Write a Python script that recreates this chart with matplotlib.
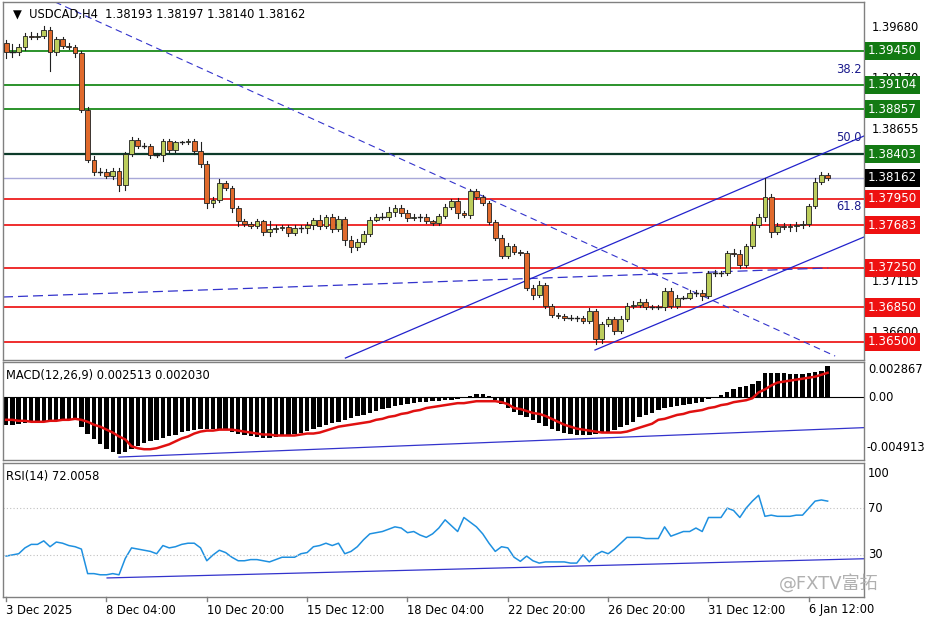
import matplotlib
matplotlib.use("Agg")
import matplotlib.pyplot as plt
from matplotlib.patches import Rectangle

plt.rcParams['font.family'] = ['DejaVu Sans', 'Noto Sans CJK SC']

first_open = 1.3953
closes = [1.3944,1.3944,1.3949,1.3960,1.3959,1.3960,1.3966,1.3944,1.3957,1.3950,
1.3949,1.3943,1.3885,1.3834,1.3822,1.3822,1.3818,1.3823,1.3809,1.3840,
1.3855,1.3848,1.3848,1.3839,1.3839,1.3854,1.3844,1.3852,1.3852,1.3854,
1.3843,1.3830,1.3791,1.3794,1.3811,1.3806,1.3786,1.3772,1.3769,1.3767,
1.3772,1.3761,1.3764,1.3765,1.3766,1.3760,1.3765,1.3765,1.3768,1.3774,
1.3767,1.3777,1.3764,1.3775,1.3753,1.3746,1.3751,1.3759,1.3774,1.3777,
1.3777,1.3782,1.3786,1.3781,1.3776,1.3777,1.3777,1.3772,1.3770,1.3778,
1.3787,1.3793,1.3781,1.3779,1.3803,1.3797,1.3791,1.3771,1.3755,1.3737,
1.3747,1.3741,1.3740,1.3705,1.3698,1.3708,1.3686,1.3677,1.3676,1.3674,
1.3674,1.3674,1.3671,1.3681,1.3653,1.3668,1.3673,1.3661,1.3673,1.3686,
1.3687,1.3690,1.3685,1.3685,1.3685,1.3702,1.3686,1.3695,1.3695,1.3700,
1.3700,1.3697,1.3720,1.3720,1.3720,1.3740,1.3739,1.3728,1.3747,1.3768,
1.3777,1.3797,1.3761,1.3767,1.3766,1.3767,1.3768,1.3769,1.3788,1.3812,1.3819,1.38162]
up_wick_pips = [3,8,3,3,4,3,4,3,2,2,3,2,2,3,4,4,3,3,3,2,
3,2,3,2,2,2,2,2,2,2,2,10,3,3,4,2,2,2,3,2,
3,2,8,3,2,2,3,3,3,2,5,2,3,3,2,4,3,3,3,3,
4,5,3,3,3,3,3,3,2,2,3,2,3,2,2,2,2,2,2,3,
3,2,2,2,3,4,2,2,2,2,3,2,2,3,2,2,2,2,3,3,
4,3,3,2,2,3,3,3,2,3,3,3,2,3,2,2,4,4,2,3,
3,19,3,3,3,2,3,3,2,4,3,2]
down_wick_pips = [6,5,3,3,2,2,2,20,3,2,2,4,2,2,3,3,2,3,6,5,
2,2,2,3,2,6,2,2,2,2,3,3,5,4,2,2,4,5,2,2,
2,3,4,3,2,3,2,4,5,4,3,2,3,2,5,5,3,2,2,2,
2,3,4,3,4,2,5,2,2,2,2,2,5,2,3,2,2,2,2,2,
2,2,2,2,5,2,2,2,2,2,2,3,2,2,5,4,2,3,2,2,
2,2,2,2,2,3,2,2,2,2,3,5,2,3,3,2,2,3,2,2,
2,5,5,2,2,4,5,3,2,2,2,2]

macd_hist = [-28,-28,-27,-26,-25,-24,-24,-23,-23,-22,-22,-21,
-30,-37,-43,-48,-53,-56,-58,-56,-53,-50,
-47,-45,-44,-42,-40,-38,-35,-34,-33,-32,
-32,-32,-32,-33,-35,-37,-38,-40,-41,-42,
-42,-41,-40,-38,-37,-36,-34,-32,-30,-28,
-26,-25,-23,-21,-19,-18,-16,-14,-12,-11,
-9,-8,-7,-6,-5,-5,-4,-4,-3,-3,
-2,-1,1,3,3,1,-3,-7,-11,-15,
-18,-20,-23,-26,-29,-32,-34,-36,-37,-38,
-38,-38,-37,-36,-35,-33,-30,-28,-25,-20,
-18,-16,-13,-11,-10,-9,-8,-7,-6,-5,
-2,0,2,5,8,10,12,14,17,25,
25,25,25,24,24,24,25,26,27,32]
macd_signal = [-23,-23,-24,-24,-25,-25,-25,-24,-24,-23,-23,-22,
-23,-25,-28,-30,-33,-36,-40,-43,-50,-52,
-53,-53,-52,-50,-48,-45,-42,-40,-37,-35,
-34,-34,-33,-33,-33,-34,-35,-36,-37,-38,
-38,-39,-39,-39,-39,-38,-37,-37,-36,-34,
-32,-30,-29,-28,-27,-26,-25,-23,-22,-20,
-19,-17,-16,-14,-13,-11,-10,-9,-8,-7,
-6,-6,-5,-4,-4,-4,-4,-5,-7,-11,
-12,-14,-16,-17,-19,-22,-25,-28,-30,-32,
-33,-34,-35,-36,-36,-36,-36,-35,-33,-31,
-29,-27,-23,-22,-20,-18,-17,-15,-14,-13,
-11,-10,-8,-7,-5,-4,-3,-1,5,8,
12,15,16,17,18,19,20,21,23,25]
rsi = [29,30,31,36,39,39,42,37,41,40,38,37,35,14,14,13,13,14,13,27,
36,35,34,33,31,38,36,37,39,40,40,36,25,30,34,32,28,25,25,26,
26,25,24,26,28,28,28,31,32,37,38,40,38,40,31,33,37,43,48,49,
50,52,54,53,49,50,47,45,48,53,60,55,50,62,58,54,48,40,33,37,
36,28,24.5,29,25,23,24,24,24,24,23,23,30,24,30,33,31,35,40,45,
45,45,44,44,44,54,46,48,50,50,53,50,62,62,62,70,68,62,70,76,
81,63,64,63,63,63,64,64,70,76,77,76]

xtick_pos = [0, 16, 32, 48, 64, 80, 96, 112, 128]
xtick_labels = ["3 Dec 2025", "8 Dec 04:00", "10 Dec 20:00", "15 Dec 12:00", "18 Dec 04:00",
                "22 Dec 20:00", "26 Dec 20:00", "31 Dec 12:00", "6 Jan 12:00"]
green_levels = [1.39450, 1.39104, 1.38857]
dark_level = 1.38403
current_price = 1.38162
red_levels = [1.37950, 1.37683, 1.37250, 1.36850, 1.36500]
axis_prices = [1.39680, 1.39170, 1.38655, 1.37115, 1.36600]
fib_labels = [("38.2", 1.39195), ("50.0", 1.38505), ("61.8", 1.37805)]

XMIN, XMAX = -0.5, 136.8
W, H = 936, 624
fig = plt.figure(figsize=(9.36, 6.24), dpi=100)

def ax_rect(top, bottom):
    return [3/W, 1-bottom/H, 861/W, (bottom-top)/H]

ax = fig.add_axes(ax_rect(2, 360))
axm = fig.add_axes(ax_rect(362, 460))
axr = fig.add_axes(ax_rect(463, 597))
for a in (ax, axm, axr):
    a.set_xlim(XMIN, XMAX)
    a.set_xticks([]); a.set_yticks([])
    for s in a.spines.values():
        s.set_color('#808080'); s.set_linewidth(1)

PMIN, PMAX = 1.36317, 1.39943
ax.set_ylim(PMIN, PMAX)
fs = 8.3
# levels
for p in green_levels:
    ax.axhline(p, color='#1a8a1a', lw=1.3)
ax.axhline(dark_level, color='#0d3b2a', lw=1.6)
ax.axhline(current_price, color='#a8a8d8', lw=1)
for p in red_levels:
    ax.axhline(p, color='#ee1c1c', lw=1.3)

# trend lines
ax.plot([7.8, 132.2], [1.39943, 1.36357], color='#3333cc', lw=0.8, ls=(0, (6, 4)))
ax.plot([-0.5, 131.1], [1.36955, 1.37249], color='#3333cc', lw=0.9, ls=(0, (8, 4)))
ax.plot([54.1, 136.8], [1.36337, 1.38586], color='#2222cc', lw=0.9)
ax.plot([93.9, 136.8], [1.36418, 1.37563], color='#2222cc', lw=0.9)

# candles
prev = first_open
for i, c in enumerate(closes):
    o = prev
    hi = max(o, c) + up_wick_pips[i] * 1e-4
    lo = min(o, c) - down_wick_pips[i] * 1e-4
    bull = c >= o
    wick_col = '#202020'
    ax.plot([i, i], [lo, hi], color=wick_col, lw=0.8, zorder=3)
    bh = abs(c - o)
    if bh < 0.00006:
        ax.plot([i-0.35, i+0.35], [c, c], color='#202020', lw=1, zorder=4)
    else:
        ax.add_patch(Rectangle((i-0.38, min(o, c)), 0.76, bh,
                               facecolor='#bccd5c' if bull else '#e06a2c',
                               edgecolor='#202020', lw=0.6, zorder=4))
    prev = c

ax.text(0.012, 0.985, "▼  USDCAD,H4  1.38193 1.38197 1.38140 1.38162", transform=ax.transAxes,
        ha='left', va='top', fontsize=fs, color='black')
for lab, p in fib_labels:
    ax.text(XMAX-0.3, p, lab, ha='right', va='bottom', fontsize=fs, color='#1a1a8c')

def yfig_price(p):
    return 1 - (2 + (PMAX - p) / (PMAX - PMIN) * 358) / H

lx = 868 / W
for p in axis_prices:
    fig.text(lx + 0.004, yfig_price(p), f"{p:.5f}", fontsize=fs, va='center', ha='left')
def boxlabel(p, col):
    fig.text(lx, yfig_price(p), f"{p:.5f}", fontsize=fs+0.3, va='center', ha='left', color='white',
             bbox=dict(boxstyle='square,pad=0.22', fc=col, ec='none'))
for p in green_levels:
    boxlabel(p, '#137a13')
boxlabel(dark_level, '#137a13')
boxlabel(current_price, '#000000')
for p in red_levels:
    boxlabel(p, '#ee1111')

# MACD
axm.set_ylim(-64, 36)
axm.bar(range(len(macd_hist)), macd_hist, width=0.7, color='black', zorder=2)
axm.plot(range(len(macd_signal)), macd_signal, color='#e01010', lw=1.8, zorder=3)
axm.axhline(0, color='black', lw=0.8)
axm.plot([18, 136.7], [-61, -31], color='#3333cc', lw=0.9)
axm.text(0.004, 0.93, "MACD(12,26,9) 0.002513 0.002030", transform=axm.transAxes,
         ha='left', va='top', fontsize=fs)
def yfig_m(v):
    return 1 - (362 + (36 - v) / 100 * 98) / H
fig.text(lx, yfig_m(28.67), "0.002867", fontsize=fs, va='center')
fig.text(lx, yfig_m(0), "0.00", fontsize=fs, va='center')
fig.text(lx - 0.002, yfig_m(-51), "-0.004913", fontsize=fs, va='center')

# RSI
axr.set_ylim(-6, 108.6)
axr.plot(range(len(rsi)), rsi, color='#1e90e0', lw=1.1)
for lv in (70, 30):
    axr.axhline(lv, color='#c0c0c0', lw=0.8, ls=(0, (1, 2)))
axr.plot([16.1, 136.7], [10.3, 26.7], color='#3333cc', lw=0.9)
axr.text(0.004, 0.95, "RSI(14) 72.0058", transform=axr.transAxes, ha='left', va='top', fontsize=fs)
def yfig_r(v):
    return 1 - (463 + (108.6 - v) / 114.6 * 134) / H
for v in (100, 70, 30):
    fig.text(lx, yfig_r(v), str(v), fontsize=fs, va='center')
fig.text(0.885, 0.065, "@FXTV富拓", fontsize=13, color='#b0b0b0', ha='center', va='center',
         family=['DejaVu Sans', 'Noto Sans CJK SC'])

# x labels
for pos, lab in zip(xtick_pos, xtick_labels):
    xf = (3 + (pos - XMIN) / (XMAX - XMIN) * 861) / W
    fig.text(xf, 1 - 610 / H, lab, fontsize=fs, ha='left', va='center')
    fig.add_artist(plt.Line2D([xf, xf], [1-597/H, 1-601/H], color='#808080', lw=1))

fig.savefig("out.png", dpi=100)
